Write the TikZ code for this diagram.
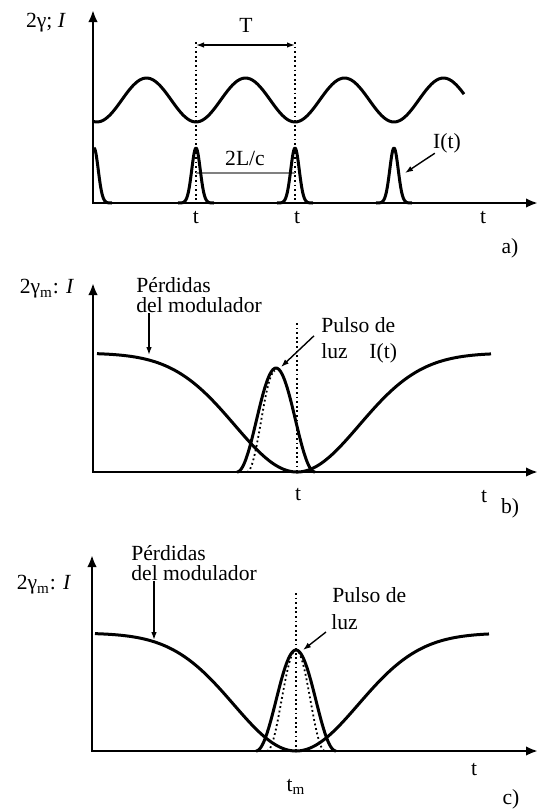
\documentclass[tikz,border=0pt]{standalone}
\usepackage{fontspec}
\setmainfont{Liberation Serif}
\usetikzlibrary{arrows.meta}

\begin{document}
\begin{tikzpicture}[
  x=0.5pt, y=-0.5pt,
  lbl/.style={font=\fontsize{10.8}{10}\selectfont, inner sep=0pt},
  axes/.style={{Latex[length=6pt,width=4.8pt]}-{Latex[length=6pt,width=4.8pt]}, line width=1.3pt},
  curve/.style={line width=1.5pt, line join=round},
  guide/.style={line width=0.9pt, dash pattern=on 0.9pt off 1.4pt},
  pointer/.style={-{Latex[length=4pt,width=2.8pt]}, line width=0.7pt},
  span/.style={{Latex[length=4pt,width=2.8pt]}-{Latex[length=4pt,width=2.8pt]}, line width=0.8pt}
]
\useasboundingbox (0,0) rectangle (540,810);

\node[lbl] (ya) at (46,23) {2γ; \textit{I}};
\draw[guide] (196,42) -- (196,203);
\draw[guide] (295,42) -- (295,203);
\coordinate (ta) at (196,45);
\coordinate (tb) at (295,45);
\draw[span] (ta) -- (tb);
\node[lbl] (per) at (246,25) {T};
\draw[gray, line width=1pt] (196,173) -- (295,173);
\node[lbl] (rt) at (245,158) {2L/c};
\draw[curve] plot[domain=93:464, samples=150, smooth] (\x,{100-22*cos((\x-146.5)/99*360)});
\draw[curve] plot[domain=94:112, samples=30, smooth] (\x,{203-55*exp(-((\x-94)/6)^2)});
\foreach \c in {196,295,394}
  \draw[curve] plot[domain=\c-18:\c+18, samples=61, smooth] (\x,{203-55*exp(-((\x-\c)/6)^2)});
\draw[axes] (93,10) -- (93,203) -- (538,203);
\node[lbl] (ia) at (447,143) {I(t)};
\coordinate (ia-tip) at (405,173);
\draw[pointer] (ia.220) -- (ia-tip);
\node[lbl] (t1a) at (196,218) {t};
\node[lbl] (t2a) at (297,218) {t};
\node[lbl] (t3a) at (483,218) {t};
\node[lbl] (pa) at (510,248) {a)};

\node[lbl] (yb) at (47,289) {2γ\textsubscript{m}: \textit{I}};
\draw[guide] (297,323) -- (297,472);
\draw[curve] plot[domain=97:491, samples=150, smooth] (\x,{353+119*exp(-((\x-297)/88)^2)});
\draw[curve] plot[domain=237:315, samples=60, smooth] (\x,{472-52*(1+cos((\x-276)/39*180))});
\draw[guide] plot[domain=247:275, samples=30, smooth] (\x,{472-50.5*(1+cos((\x-275)/28*180))});
\draw[axes] (93,283) -- (93,472) -- (538,472);
\node[lbl, anchor=west, align=left] (lossb) at (136,295) {Pérdidas\\del modulador};
\coordinate (lossb-tip) at (149,355);
\draw[pointer] (lossb.south west -| lossb-tip) -- (lossb-tip);
\node[lbl, anchor=west] (pulb) at (321,325) {Pulso de};
\node[lbl, anchor=west] (luzb) at (321,353) {luz\quad I(t)};
\coordinate (pulb-tip) at (281,367);
\draw[pointer] ([shift={(-7,-7)}]luzb.north west) -- (pulb-tip);
\node[lbl] (t1b) at (298,495) {t};
\node[lbl] (t2b) at (484,497) {t};
\node[lbl] (pb) at (510,508) {b)};

\node[lbl] (yc) at (44,585) {2γ\textsubscript{m}: \textit{I}};
\draw[guide] (296,593) -- (296,751);
\draw[curve] plot[domain=95:489, samples=150, smooth] (\x,{633+118*exp(-((\x-296)/88)^2)});
\draw[curve] plot[domain=256:336, samples=60, smooth] (\x,{751-50.5*(1+cos((\x-296)/40*180))});
\draw[guide] plot[domain=267:325, samples=60, smooth] (\x,{751-50.5*(1+cos((\x-296)/29*180))});
\draw[axes] (92,555) -- (92,751) -- (538,751);
\node[lbl, anchor=west, align=left] (lossc) at (131,563) {Pérdidas\\del modulador};
\coordinate (lossc-tip) at (154,640);
\draw[pointer] (lossc.south west -| lossc-tip) -- (lossc-tip);
\node[lbl, anchor=west] (pulc) at (332,595) {Pulso de};
\node[lbl, anchor=west] (luzc) at (331,622) {luz};
\coordinate (pulc-tip) at (303,650);
\draw[pointer] ([shift={(-5,2)}]luzc.south west) -- (pulc-tip);
\node[lbl] (tmc) at (296,787) {t\textsubscript{m}};
\node[lbl] (t1c) at (474,770) {t};
\node[lbl] (pc) at (511,799) {c)};
\end{tikzpicture}
\end{document}
